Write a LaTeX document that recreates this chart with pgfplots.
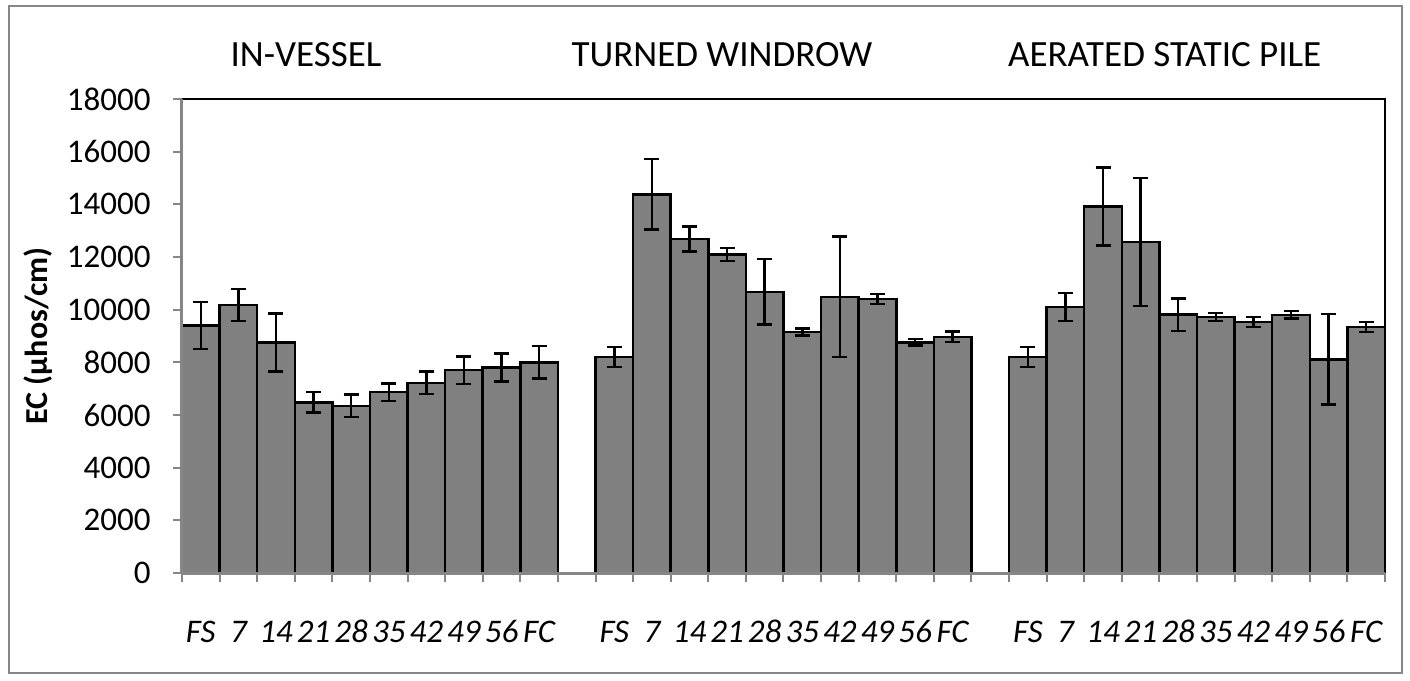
\documentclass[border=0pt]{standalone}
\usepackage{pgfplots}
\pgfplotsset{compat=1.18}
\usepackage{fontspec}
\setmainfont{Carlito}
\definecolor{axgray}{RGB}{134,134,134}
\definecolor{bargray}{RGB}{128,128,128}
\begin{document}
\begin{tikzpicture}[x=1bp,y=1bp]
\useasboundingbox (-182,-108) rectangle (1228,573);
\draw[color=axgray, line width=2.5bp] (-173,-100) rectangle (1220,567);
\begin{axis}[
  at={(0,0)}, anchor=south west,
  scale only axis, width=1203bp, height=474bp,
  xmin=-0.5, xmax=31.5, ymin=0, ymax=18000,
  clip=false,
  axis on top,
  axis lines*=left,
  axis line style={draw=axgray, line width=3bp},
  scaled y ticks=false,
  ytick={0,2000,...,18000},
  xtick={0,1,2,3,4,5,6,7,8,9,11,12,13,14,15,16,17,18,19,20,22,23,24,25,26,27,28,29,30,31},
  xticklabels={FS,7,14,21,28,35,42,49,56,FC,FS,7,14,21,28,35,42,49,56,FC,FS,7,14,21,28,35,42,49,56,FC},
  minor xtick={-0.5,0.5,...,31.5},
  tick align=outside,
  major tick length=9bp, minor tick length=9bp,
  major x tick style={draw=none},
  minor x tick style={draw=axgray, line width=2bp},
  ytick style={draw=axgray, line width=2bp},
  /pgf/number format/1000 sep={},
  /pgf/number format/assume math mode=true,
  tick label style={font=\fontsize{33bp}{40bp}\selectfont},
  yticklabel style={xshift=-19bp},
  xticklabel style={font=\fontsize{33bp}{38bp}\selectfont\itshape, text height=22bp, text depth=0bp, anchor=north, yshift=-35bp},
  ylabel={EC (µhos/cm)},
  ylabel style={at={(axis description cs:-0.1197,0.5)}, anchor=center, font=\fontsize{32bp}{38bp}\selectfont\bfseries},
  ybar, bar width=1,
]
\addplot[fill=bargray, draw=black, line width=2.5bp,
  error bars/.cd, y dir=both, y explicit,
  error bar style={line width=2.5bp, black},
  error mark options={rotate=90, mark size=7.5bp, line width=2.5bp, black}]
coordinates {
 (0,9400) +- (0,900)
 (1,10170) +- (0,610)
 (2,8750) +- (0,1100)
 (3,6480) +- (0,390)
 (4,6350) +- (0,430)
 (5,6870) +- (0,330)
 (6,7220) +- (0,430)
 (7,7700) +- (0,530)
 (8,7800) +- (0,530)
 (9,8000) +- (0,620)
 (11,8200) +- (0,380)
 (12,14380) +- (0,1340)
 (13,12680) +- (0,475)
 (14,12100) +- (0,250)
 (15,10680) +- (0,1240)
 (16,9150) +- (0,140)
 (17,10490) +- (0,2290)
 (18,10400) +- (0,190)
 (19,8760) +- (0,120)
 (20,8970) +- (0,200)
 (22,8200) +- (0,380)
 (23,10100) +- (0,530)
 (24,13920) +- (0,1480)
 (25,12570) +- (0,2435)
 (26,9810) +- (0,620)
 (27,9720) +- (0,145)
 (28,9540) +- (0,190)
 (29,9800) +- (0,140)
 (30,8110) +- (0,1720)
 (31,9350) +- (0,190)
};
\draw[black, line width=2.5bp] (rel axis cs:0,1) -- (rel axis cs:1,1) -- (rel axis cs:1,0);
\node[font=\fontsize{37bp}{44bp}\selectfont] at (axis cs:2.8,19672) {IN-VESSEL};
\node[font=\fontsize{37bp}{44bp}\selectfont] at (axis cs:13.86,19672) {TURNED WINDROW};
\node[font=\fontsize{37bp}{44bp}\selectfont] at (axis cs:25.64,19672) {AERATED STATIC PILE};
\end{axis}
\end{tikzpicture}
\end{document}
